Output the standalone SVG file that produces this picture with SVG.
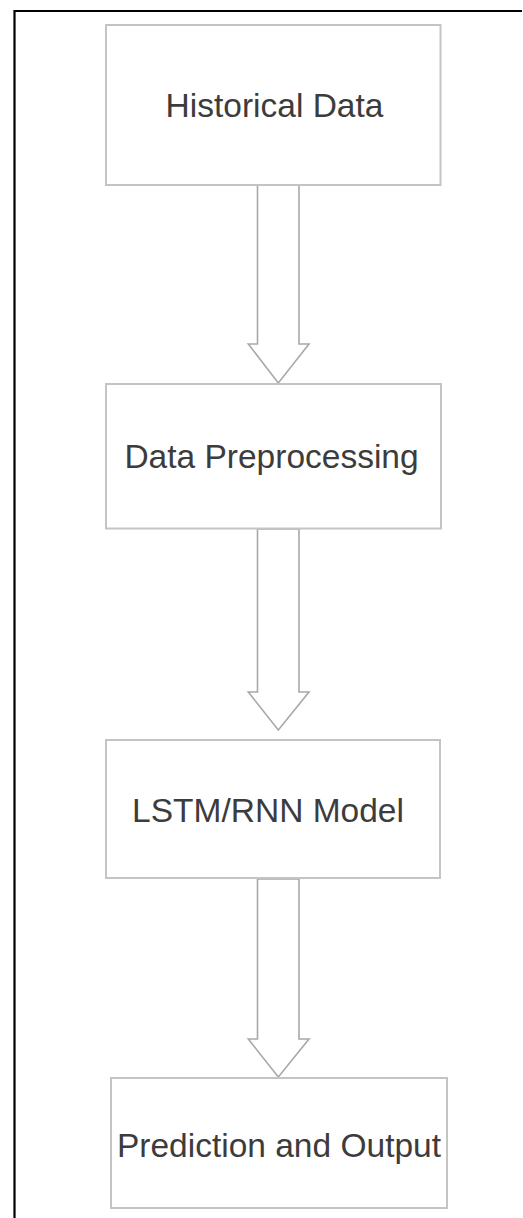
<svg xmlns="http://www.w3.org/2000/svg" width="523" height="1218" viewBox="0 0 523 1218">
<style>
.box{fill:#ffffff;stroke:#c4c4c4;stroke-width:2}
.lbl{font-family:"Liberation Sans",Arial,sans-serif;font-size:33.5px;fill:#3c3c3c;text-anchor:middle}
.arr{fill:#ffffff;stroke:#a8a8a8;stroke-width:1.6;stroke-linejoin:miter}
</style>
<rect width="523" height="1218" fill="#ffffff"/>
<path d="M14.5 1218 V11 H522" fill="none" stroke="#000000" stroke-width="2.2"/>
<g id="connectors">
<path class="arr" d="M257.5 185 H299 V344 H309 L278.3 383 L248.3 344 H257.5 Z"/>
<path class="arr" d="M257.5 529 H299 V692 H309 L278.3 730 L248.3 692 H257.5 Z"/>
<path class="arr" d="M257.5 879 H299 V1039 H309 L278.3 1077 L248.3 1039 H257.5 Z"/>
</g>
<g id="historical-data">
<rect class="box" x="106" y="25" width="334.5" height="160"/>
<text class="lbl" x="274.5" y="117">Historical Data</text>
</g>
<g id="data-preprocessing">
<rect class="box" x="106" y="384" width="335" height="144.5"/>
<text class="lbl" x="271.5" y="468">Data Preprocessing</text>
</g>
<g id="lstm-rnn-model">
<rect class="box" x="106" y="740" width="334" height="138"/>
<text class="lbl" x="268" y="821.5">LSTM/RNN Model</text>
</g>
<g id="prediction-output">
<rect class="box" x="111" y="1078" width="336" height="130"/>
<text class="lbl" x="279" y="1157">Prediction and Output</text>
</g>
</svg>
